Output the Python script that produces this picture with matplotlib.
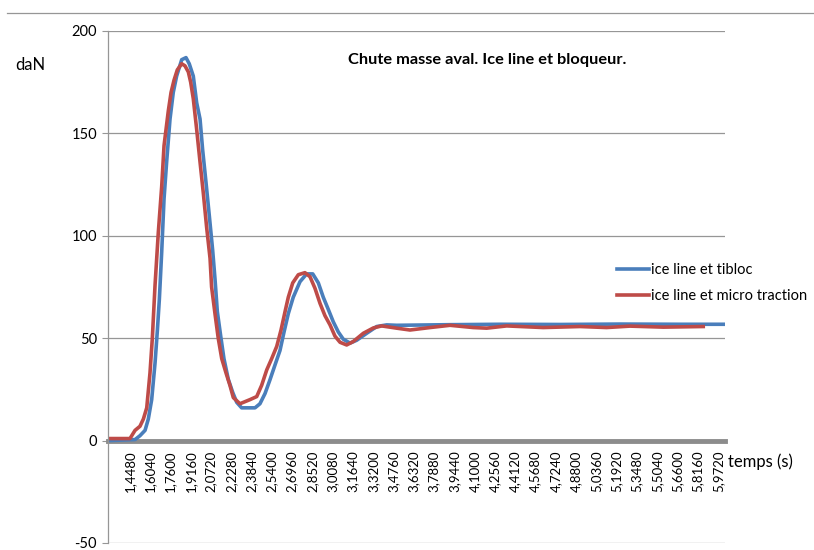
import numpy as np
import matplotlib
matplotlib.use('Agg')
import matplotlib.pyplot as plt
from matplotlib.lines import Line2D
from matplotlib.ticker import FuncFormatter

# ice line et tibloc (temps s, force daN)
t_tibloc = [1.282, 1.488, 1.526, 1.565, 1.590, 1.616, 1.642, 1.660, 1.675, 1.693,
            1.711, 1.731, 1.757, 1.782, 1.808, 1.847, 1.880, 1.905, 1.936, 1.962,
            1.988, 2.008, 2.034, 2.059, 2.085, 2.103, 2.121, 2.147, 2.172, 2.205,
            2.239, 2.270, 2.308, 2.411, 2.449, 2.488, 2.526, 2.565, 2.603, 2.634,
            2.667, 2.705, 2.757, 2.808, 2.855, 2.898, 2.936, 2.975, 3.013, 3.052,
            3.090, 3.142, 3.193, 3.270, 3.347, 3.424, 3.501, 3.911, 4.296, 4.757,
            5.218, 5.680, 6.013]
f_tibloc = [0, 0.5, 2.4, 5, 10.5, 20, 38, 54, 69, 92,
            118, 136, 157, 170, 178, 186, 187, 184, 178, 165,
            157, 142, 126, 110, 93, 79, 63, 51, 40, 30,
            23.6, 18.7, 16, 16, 18, 23, 29.7, 37, 44, 53,
            62, 70, 77.6, 81.4, 81.4, 77, 70, 64, 58, 53,
            49.5, 47.6, 49, 52.4, 55.7, 56.5, 56.3, 56.6, 56.8, 56.7,
            56.9, 56.8, 56.8]

# ice line et micro traction
t_micro = [1.282, 1.449, 1.488, 1.526, 1.552, 1.578, 1.603, 1.621, 1.642, 1.667,
           1.693, 1.711, 1.744, 1.765, 1.788, 1.813, 1.847, 1.872, 1.898, 1.916,
           1.936, 1.962, 1.988, 2.013, 2.039, 2.065, 2.077, 2.103, 2.128, 2.155,
           2.188, 2.218, 2.244, 2.295, 2.372, 2.424, 2.462, 2.501, 2.539, 2.578,
           2.611, 2.642, 2.667, 2.701, 2.744, 2.795, 2.834, 2.872, 2.911, 2.949,
           2.988, 3.026, 3.065, 3.116, 3.167, 3.244, 3.321, 3.385, 3.501, 3.603,
           3.757, 3.911, 4.090, 4.193, 4.347, 4.628, 4.911, 5.116, 5.295, 5.552,
           5.859]
f_micro = [1, 1, 5, 7, 10.5, 16, 33, 50, 76, 101.6,
           124, 144, 161, 170, 176, 181, 184, 183, 180, 175,
           167, 152, 136, 121, 104, 89, 75, 62, 50, 40,
           33, 27, 21, 18, 20, 21.5, 27, 34.5, 40, 46,
           54, 63, 70, 77, 81, 82, 80, 74.4, 67, 61,
           56.5, 51, 48, 46.7, 48.4, 52.4, 55, 56, 54.9, 54,
           55.2, 56.3, 55.2, 54.9, 56, 55.2, 55.7, 55.2, 55.9, 55.4,
           55.7]

x_ticks = [1.448 + 0.156 * i for i in range(30)]
y_ticks = [-50, 0, 50, 100, 150, 200]

blue = '#4a7ebb'
red = '#be4b48'
grid_col = '#969696'

plt.rcParams['font.family'] = ['Lato', 'DejaVu Sans']
plt.rcParams['axes.unicode_minus'] = False

fig = plt.figure(figsize=(8.14, 5.5), dpi=100)
ax = fig.add_axes([108 / 814, 1 - 543 / 550, (724.7 - 108) / 814, (543 - 31) / 550])

ax.plot(t_tibloc, f_tibloc, color=blue, lw=2.6, label='ice line et tibloc')
ax.plot(t_micro, f_micro, color=red, lw=2.6, label='ice line et micro traction')

ax.set_xlim(1.28, 6.024)
ax.set_ylim(-50, 200)
ax.set_yticks(y_ticks)
ax.set_xticks(x_ticks)
ax.xaxis.set_major_formatter(FuncFormatter(lambda v, p: ('%.4f' % v).replace('.', ',')))
ax.tick_params(axis='x', labelsize=9.5, rotation=90, length=0, pad=7)
ax.tick_params(axis='y', labelsize=10.5, length=4, color=grid_col, pad=4)
ax.yaxis.grid(True, color=grid_col, lw=0.9)
ax.set_axisbelow(True)

for s in ['top', 'right']:
    ax.spines[s].set_visible(False)
ax.spines['left'].set_color(grid_col)
ax.spines['left'].set_linewidth(0.9)
ax.spines['bottom'].set_position(('data', 0))
ax.spines['bottom'].set_color('#8c8c8c')
ax.spines['bottom'].set_linewidth(3.5)
ax.spines['bottom'].set_zorder(1)

fig.text(487 / 814, 1 - 60 / 550, 'Chute masse aval. Ice line et bloqueur.',
         ha='center', va='center', fontsize=11.8, fontweight='bold')
fig.text(15 / 814, 1 - 65 / 550, 'daN', ha='left', va='center', fontsize=12)
fig.text(728 / 814, 1 - 462 / 550, 'temps (s)', ha='left', va='center', fontsize=12)

fig.legend(loc='upper left', bbox_to_anchor=(617 / 814, 1 - 263 / 550),
           frameon=False, fontsize=10.5, handlelength=2.2, handletextpad=0.15,
           labelspacing=0.85, borderpad=0, borderaxespad=0)

fig.add_artist(Line2D([7 / 814, 1], [1 - 13 / 550, 1 - 13 / 550],
                      color=grid_col, lw=0.9, transform=fig.transFigure))

fig.savefig('out.png', dpi=100)
